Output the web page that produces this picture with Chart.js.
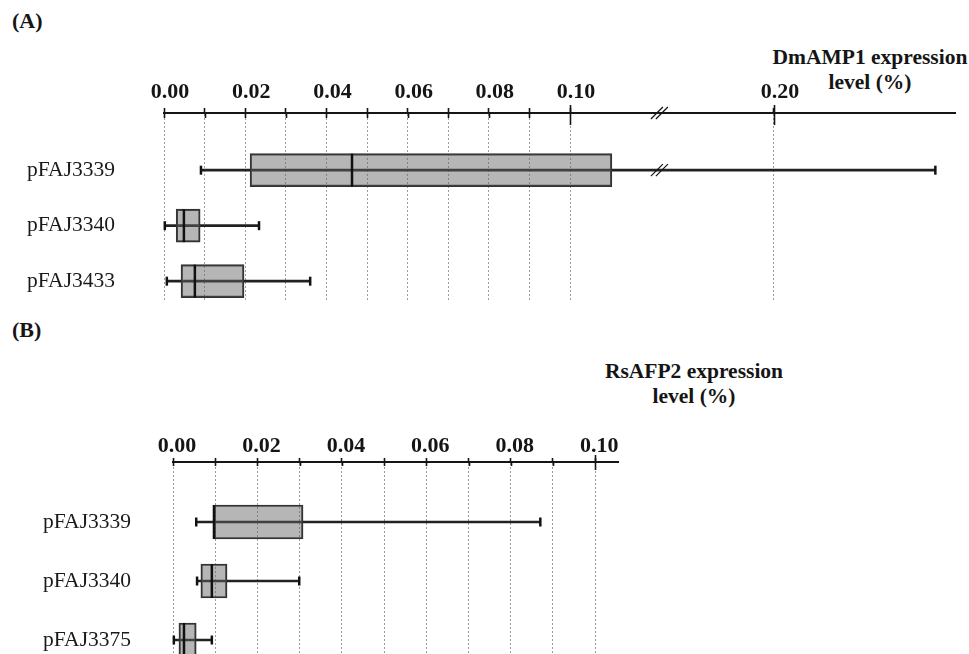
<!DOCTYPE html>
<html>
<head>
<meta charset="utf-8">
<script src="https://cdn.jsdelivr.net/npm/chart.js@4"></script>
<style>
  html, body { margin: 0; padding: 0; background: #fff; }
  body { width: 969px; height: 654px; position: relative; overflow: hidden; font-family: 'Liberation Serif', 'DejaVu Serif', serif; color: #151515; }
  .lbl { position: absolute; font-weight: bold; font-size: 22px; line-height: 22px; white-space: nowrap; }
  .ttl { position: absolute; font-weight: bold; font-size: 21.5px; line-height: 25px; text-align: center; white-space: nowrap; }
  .box { position: absolute; left: 0; width: 969px; }
</style>
</head>
<body>
<div class="lbl" style="left:12px; top:10px;">(A)</div>
<div class="ttl" style="left:770px; top:45px; width:200px;">DmAMP1 expression<br>level (%)</div>
<div class="lbl" style="left:12px; top:319px;">(B)</div>
<div class="ttl" style="left:594px; top:359px; width:200px;">RsAFP2 expression<br>level (%)</div>

<div class="box" style="top:0; height:310px;"><canvas id="cA" width="969" height="310"></canvas></div>
<div class="box" style="top:320px; height:334px;"><canvas id="cB" width="969" height="334"></canvas></div>

<script>
// ---------------- DATA ----------------
// Panel A: DmAMP1 expression level (%)
const constructsA = ['pFAJ3339', 'pFAJ3340', 'pFAJ3433'];
const minA    = [0.0091, 0.0002, 0.0007];
const q1A     = [0.0212, 0.0030, 0.0042];
const medianA = [0.0463, 0.0049, 0.0076];
const q3A     = [0.1103, 0.0089, 0.0197];
const maxA    = [0.3100, 0.0234, 0.0360];
const tickValuesA = [0, 0.01, 0.02, 0.03, 0.04, 0.05, 0.06, 0.07, 0.08, 0.09, 0.10, 0.20];
const tickLabelsA = ['0.00', '', '0.02', '', '0.04', '', '0.06', '', '0.08', '', '0.10', '0.20'];

// Panel B: RsAFP2 expression level (%)
const constructsB = ['pFAJ3339', 'pFAJ3340', 'pFAJ3375'];
const minB    = [0.0055, 0.0057, 0.0002];
const q1B     = [0.0097, 0.0066, 0.0014];
const medianB = [0.0097, 0.0092, 0.0026];
const q3B     = [0.0308, 0.0128, 0.0055];
const maxB    = [0.0870, 0.0299, 0.0092];
const tickValuesB = [0, 0.01, 0.02, 0.03, 0.04, 0.05, 0.06, 0.07, 0.08, 0.09, 0.10];
const tickLabelsB = ['0.00', '', '0.02', '', '0.04', '', '0.06', '', '0.08', '', '0.10'];

// ---------------- axis break (panel A) ----------------
const BREAK_A = 0.122;        // where the axis is broken
const SHRINK_A = 0.3615;      // compression of values beyond the break
const identity = v => v;
const brokenA = v => (v <= BREAK_A ? v : BREAK_A + (v - BREAK_A) * SHRINK_A);

const FONT = "'Liberation Serif', 'DejaVu Serif', serif";
const INK = '#151515';

const axisMarks = {
  id: 'axisMarks',
  afterDraw(chart, args, o) {
    const sx = chart.scales.x, sy = chart.scales.y, ctx = chart.ctx;
    const y0 = sx.bottom;
    ctx.save();
    ctx.strokeStyle = INK;
    ctx.lineWidth = 1.6;
    sx.ticks.forEach((t, i) => {
      const x = Math.round(sx.getPixelForValue(t.value)) + 0.5;
      const major = o.major.includes(i);
      ctx.beginPath();
      ctx.moveTo(x, y0 - (major ? o.majUp : 0));
      ctx.lineTo(x, y0 + (major ? o.majDown : o.down));
      ctx.stroke();
    });
    if (o.breakAt != null) {
      const xb = sx.getPixelForValue(o.breakAt);
      const rows = [y0, sy.getPixelForValue(o.breakRow)];
      ctx.lineWidth = 1.2;
      rows.forEach(yb => {
        [-2.5, 2.5].forEach(off => {
          ctx.beginPath();
          ctx.moveTo(xb + off - 6, yb + 6);
          ctx.lineTo(xb + off + 6, yb - 6);
          ctx.stroke();
        });
      });
    }
    ctx.restore();
  }
};

function makeChart(id, cfg) {
  const T = cfg.transform;
  const rows = cfg.labels.map((_, i) => i);
  const datasets = [
    { // whiskers
      type: 'bar', indexAxis: 'y', grouped: false, order: 3,
      data: rows.map(i => ({ y: i, x: [T(cfg.min[i]), T(cfg.max[i])] })),
      backgroundColor: '#222', borderWidth: 0, barThickness: 2
    },
    { // boxes
      type: 'bar', indexAxis: 'y', grouped: false, order: 2,
      data: rows.map(i => ({ y: i, x: [T(cfg.q1[i]), T(cfg.q3[i])] })),
      backgroundColor: 'rgba(100,100,100,0.47)', borderColor: '#333', borderWidth: 1.5,
      borderSkipped: false, barThickness: cfg.boxH
    },
    { // medians
      type: 'scatter', order: 1, clip: false,
      data: rows.map(i => ({ x: T(cfg.median[i]), y: i })),
      pointStyle: 'line', rotation: 90, radius: cfg.boxH / 2, borderWidth: 2.5,
      borderColor: '#111', backgroundColor: '#111', hoverRadius: cfg.boxH / 2
    },
    { // whisker caps
      type: 'scatter', order: 1, clip: false,
      data: rows.flatMap(i => [{ x: T(cfg.min[i]), y: i }, { x: T(cfg.max[i]), y: i }]),
      pointStyle: 'line', rotation: 90, radius: 4.5, borderWidth: 2.5,
      borderColor: '#111', backgroundColor: '#111', hoverRadius: 4.5
    }
  ];
  return new Chart(document.getElementById(id), {
    data: { datasets },
    options: {
      responsive: false, animation: false,
      layout: { autoPadding: false, padding: { left: 0, top: 0, right: cfg.padRight, bottom: cfg.padBottom } },
      plugins: { legend: { display: false }, tooltip: { enabled: false }, axisMarks: cfg.marks },
      scales: {
        x: {
          type: 'linear', position: 'top', min: 0, max: cfg.xMax, offset: false, grace: 0,
          afterBuildTicks: s => { s.ticks = cfg.tickValues.map(v => ({ value: T(v) })); },
          afterFit: s => { s.height = cfg.axisTop; s.paddingLeft = 0; s.paddingRight = 0; },
          ticks: {
            autoSkip: false, maxRotation: 0, minRotation: 0,
            padding: cfg.labelPad, labelOffset: cfg.labelOffset, color: INK,
            font: { family: FONT, size: 22, weight: 'bold' },
            callback: (v, i) => cfg.tickLabels[i]
          },
          grid: { display: true, drawOnChartArea: true, drawTicks: true, tickLength: cfg.tickUp,
                  color: '#9c9c9c', lineWidth: 1, tickColor: INK, tickWidth: 1.6 },
          border: { display: true, color: INK, width: 2, dash: [2, 2] }
        },
        y: {
          type: 'linear', reverse: true, min: cfg.yMin, max: cfg.yMax, offset: false, grace: 0,
          afterBuildTicks: s => { s.ticks = rows.map(i => ({ value: i })); },
          afterFit: s => { s.width = cfg.axisLeft; s.paddingTop = 0; s.paddingBottom = 0; },
          ticks: {
            autoSkip: false, padding: cfg.namePad, color: '#1a1a1a',
            font: { family: FONT, size: 21.5 },
            callback: v => cfg.labels[v]
          },
          grid: { display: false, drawTicks: false },
          border: { display: false }
        }
      }
    },
    plugins: [axisMarks]
  });
}

makeChart('cA', {
  labels: constructsA, min: minA, q1: q1A, median: medianA, q3: q3A, max: maxA,
  tickValues: tickValuesA, tickLabels: tickLabelsA, transform: brokenA,
  xMax: 0.1948, yMin: -1.03, yMax: 2.375, boxH: 33,
  axisTop: 113, axisLeft: 164, padRight: 14, padBottom: 8,
  labelPad: 2, labelOffset: 6, tickUp: 5, namePad: 49,
  marks: { major: [10, 11], majUp: 8, majDown: 12, down: 5, breakAt: BREAK_A, breakRow: 0 }
});

makeChart('cB', {
  labels: constructsB, min: minB, q1: q1B, median: medianB, q3: q3B, max: maxB,
  tickValues: tickValuesB, tickLabels: tickLabelsB, transform: identity,
  xMax: 0.1054, yMin: -1.017, yMax: 2.237, boxH: 34,
  axisTop: 142, axisLeft: 173, padRight: 351, padBottom: 0,
  labelPad: -2, labelOffset: 4, tickUp: 4, namePad: 42,
  marks: { major: [10], majUp: 7, majDown: 8, down: 4, breakAt: null, breakRow: 0 }
});
</script>
</body>
</html>
